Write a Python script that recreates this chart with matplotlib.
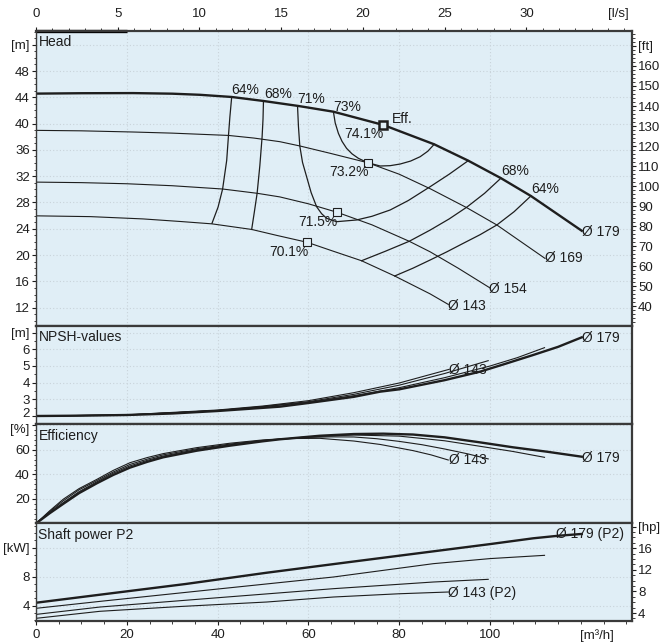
import matplotlib
matplotlib.use("Agg")
import matplotlib.pyplot as plt
import matplotlib.transforms as mtransforms
from matplotlib.ticker import MultipleLocator

plt.rcParams['font.family'] = ['Liberation Sans', 'DejaVu Sans']
plt.rcParams['font.size'] = 10

# ---------------- data (Q in m3/h) ----------------
# Head curves [m]
q_h179 = [0, 10, 21.4, 30, 36.1, 43.1, 50.1, 57.8, 65.5, 76.5, 87.7, 95.2, 102.4, 109, 120.2]
h_h179 = [44.56, 44.62, 44.64, 44.55, 44.38, 44.05, 43.44, 42.68, 41.81, 39.79, 36.85, 34.36, 31.7, 28.99, 23.7]
q_h169 = [0, 10, 21.4, 30, 42.4, 48, 53.7, 58.1, 64.8, 73.06, 80, 86.8, 94.9, 101.5, 112.1]
h_h169 = [38.97, 38.9, 38.72, 38.55, 38.2, 37.8, 37.25, 36.6, 35.48, 34.05, 32.3, 30.1, 27.2, 24.58, 19.5]
q_h154 = [0, 10, 20, 30, 41.1, 48.7, 53.7, 60, 66.37, 74, 82.2, 86.8, 93, 100]
h_h154 = [31.1, 31.02, 30.85, 30.55, 30.05, 29.4, 28.85, 27.8, 26.5, 24.6, 22.1, 20.5, 18.0, 15.0]
q_h143 = [0, 12, 23.6, 32, 38.76, 47.5, 53, 59.75, 65, 71.7, 79, 86.8, 90.8]
h_h143 = [25.97, 25.85, 25.5, 25.1, 24.75, 23.9, 23.0, 21.94, 20.7, 19.14, 16.82, 14.1, 12.5]

# Iso-efficiency lines [Q, H]
q_c64L = [43.1, 42.7, 42.4, 42.0, 41.1, 40.1, 38.76]
h_c64L = [44.05, 41.0, 38.27, 34.4, 30.05, 27.3, 24.83]
q_c68L = [50.1, 50.0, 49.8, 49.3, 48.7, 48.1, 47.5]
h_c68L = [43.44, 40.7, 38.0, 33.6, 29.4, 26.6, 23.9]
q_c71 = [57.6, 57.8, 58.1, 58.7, 59.6, 60.6, 61.8, 62.9, 64.0, 66.2, 70.6, 74, 78, 82, 86.8, 91, 95.2]
h_c71 = [42.68, 39.6, 36.6, 34.1, 31.92, 29.5, 27.36, 26.3, 25.6, 25.08, 25.34, 25.9, 26.86, 28.3, 30.4, 32.3, 34.36]
q_c73 = [65.5, 65.9, 66.6, 67.4, 68.4, 69.6, 71, 73.06, 75.8, 78, 80.2, 82.5, 84.6, 86.3, 87.7]
h_c73 = [41.81, 40.1, 38.52, 37.3, 36.24, 35.4, 34.72, 34.05, 33.55, 33.6, 33.85, 34.3, 34.96, 35.8, 36.85]
q_c68R = [71.7, 77, 82.2, 86.8, 91, 94.9, 98.8, 102.4]
h_c68R = [19.14, 20.6, 22.1, 23.8, 25.5, 27.3, 29.4, 31.7]
q_c64R = [79, 83, 86.8, 90.5, 94.1, 97.8, 101.5, 105.3, 109]
h_c64R = [16.82, 18.0, 19.25, 20.5, 21.79, 23.1, 24.58, 26.6, 28.99]

# duty points
q_pts = [59.75, 66.37, 73.06]
h_pts = [21.94, 26.5, 34.05]
q_eff, h_eff = 76.5, 39.79

# NPSH [m]
q_n179 = [0, 10, 20, 30, 40, 53.7, 60, 70, 75.8, 80, 90, 97.8, 103, 109.5, 115, 120.2]
n_n179 = [2.0, 2.02, 2.06, 2.15, 2.3, 2.56, 2.78, 3.15, 3.46, 3.6, 4.15, 4.66, 5.1, 5.66, 6.15, 6.72]
q_n169 = [0, 20, 40, 50, 60, 70, 80, 90, 100, 106, 112]
n_n169 = [2.0, 2.06, 2.32, 2.55, 2.82, 3.22, 3.7, 4.3, 5.0, 5.5, 6.1]
q_n154 = [0, 20, 40, 50, 60, 70, 80, 90, 99.6]
n_n154 = [2.0, 2.06, 2.33, 2.57, 2.86, 3.3, 3.85, 4.55, 5.32]
q_n143 = [0, 20, 40, 50, 60, 70, 80, 91]
n_n143 = [2.0, 2.07, 2.36, 2.6, 2.92, 3.4, 3.98, 4.8]

# Efficiency [%]
q_e179 = [0, 3, 6, 9.5, 13.4, 17, 20.7, 24.5, 28, 35.4, 42.7, 50, 53.7, 62.5, 70, 76.5, 83, 90, 97.8, 105, 112.5, 120.2]
e_e179 = [0, 8.3, 16, 24.8, 32.8, 39.6, 45.6, 50.3, 54, 59.4, 63.5, 67.1, 68.7, 71.6, 73.0, 73.3, 72.6, 70.3, 66.2, 62.2, 58.6, 54.5]
q_e169 = [0, 3, 6, 9.5, 13.4, 17, 20.7, 24.5, 28, 35.4, 42.7, 50, 60, 70, 80, 90, 97.8, 105, 112]
e_e169 = [0, 8.8, 17, 26, 34, 41, 47, 51.5, 55, 60.3, 64.2, 67.5, 70.8, 72.2, 71.3, 67.5, 63, 58.8, 54]
q_e154 = [0, 3, 6, 9.5, 13.4, 17, 20.7, 24.5, 28, 35.4, 42.7, 50, 60, 65, 70, 75, 80, 85, 90, 95, 99.6]
e_e154 = [0, 9.6, 18.5, 27.5, 35, 42, 48.2, 52.5, 56, 61, 64.8, 67.8, 70.3, 70.7, 70.6, 69.2, 67.0, 64.3, 60.8, 56.9, 52.7]
q_e143 = [0, 3, 6, 9.5, 13.4, 17, 20.7, 24.5, 28, 35.4, 42.7, 50, 55, 62.5, 70, 75.8, 83, 87, 90.8]
e_e143 = [0, 10.3, 19.8, 28.5, 36, 43.3, 49.6, 53.8, 57, 61.9, 65.5, 68.2, 69.3, 69.5, 67.3, 64.5, 59.5, 56, 51.8]

# Shaft power P2 [kW]
q_p179 = [0, 14.1, 33, 50.8, 70, 87.5, 100, 109.5, 115, 120.2]
p_p179 = [4.41, 5.52, 7.0, 8.55, 10.1, 11.5, 12.5, 13.3, 13.65, 13.9]
q_p169 = [0, 14.1, 40, 65.5, 87.5, 100, 112]
p_p169 = [3.64, 4.6, 6.3, 7.96, 9.8, 10.5, 10.95]
q_p154 = [0, 14.1, 40, 65.5, 87.5, 99.6]
p_p154 = [2.8, 3.82, 5.1, 6.35, 7.27, 7.64]
q_p143 = [0, 14.1, 32, 50.8, 65.5, 80, 90.8]
p_p143 = [2.26, 3.23, 3.9, 4.51, 5.2, 5.65, 5.89]

# tick labels
head_ticks = [12, 16, 20, 24, 28, 32, 36, 40, 44, 48, 52]
head_labels = ['12', '16', '20', '24', '28', '32', '36', '40', '44', '48', '[m]']
ft_ticks = [40, 50, 60, 70, 80, 90, 100, 110, 120, 130, 140, 150, 160, 170]
ft_labels = ['40', '50', '60', '70', '80', '90', '100', '110', '120', '130', '140', '150', '160', '[ft]']
ls_ticks = [0, 5, 10, 15, 20, 25, 30]
npsh_ticks = [2, 3, 4, 5, 6, 7]
npsh_labels = ['2', '3', '4', '5', '6', '[m]']
eff_ticks = [20, 40, 60, 80]
eff_labels = ['20', '40', '60', '[%]']
kw_ticks = [4, 8, 12]
kw_labels = ['4', '8', '[kW]']
hp_ticks = [4, 8, 12, 16, 20]
hp_labels = ['4', '8', '12', '16', '[hp]']
q_ticks = [0, 20, 40, 60, 80, 100]

# ---------------- figure ----------------
BG = '#E0EEF6'
INK = '#1e1e1e'
SPINE = '#3a3a3a'
GRID = '#c9d3da'
TS = 9.5

fig = plt.figure(figsize=(6.61, 6.44), dpi=100)
L, W = 36 / 661, (631.7 - 36) / 661


def box(top, bot):
    return [L, 1 - bot / 644, W, (bot - top) / 644]


ax_h = fig.add_axes(box(30.7, 325.5))
ax_n = fig.add_axes(box(325.5, 423.5))
ax_e = fig.add_axes(box(423.5, 522.5))
ax_p = fig.add_axes(box(522.5, 620.5))

XL = (0, 131.2)
for ax in (ax_h, ax_n, ax_e, ax_p):
    ax.set_facecolor(BG)
    ax.set_xlim(*XL)
    for s in ax.spines.values():
        s.set_color(SPINE)
        s.set_linewidth(1.6)
    ax.spines['left'].set_linewidth(1.0)
    ax.set_xticks(q_ticks)
    ax.xaxis.set_minor_locator(MultipleLocator(5))
    ax.grid(True, which='major', color=GRID, linestyle=(0, (1, 2)), linewidth=0.8)
    ax.set_axisbelow(True)
    ax.tick_params(axis='y', which='major', direction='out', length=3, width=0.8,
                   pad=1.5, labelsize=TS, colors=INK)
    ax.tick_params(axis='y', which='minor', direction='out', length=1.8, width=0.6, colors=INK)
    ax.tick_params(axis='x', which='both', bottom=False, labelbottom=False)

ax_p.tick_params(axis='x', which='major', bottom=True, labelbottom=True, direction='out',
                 length=3, width=0.8, pad=3, labelsize=TS, colors=INK)
ax_p.tick_params(axis='x', which='minor', bottom=True, direction='out', length=2, width=0.6, colors=INK)

thin = dict(color=INK, lw=0.8)
thick = dict(color=INK, lw=1.7)

# ---- Head ----
ax_h.set_ylim(9.29, 54.13)
ax_h.set_yticks(head_ticks, head_labels)
ax_h.yaxis.set_minor_locator(MultipleLocator(1))
ax_h.plot(q_h179, h_h179, **thick)
ax_h.plot(q_h169, h_h169, **thin)
ax_h.plot(q_h154, h_h154, **thin)
ax_h.plot(q_h143, h_h143, **thin)
for qq, hh in ((q_c64L, h_c64L), (q_c68L, h_c68L), (q_c71, h_c71), (q_c73, h_c73),
               (q_c68R, h_c68R), (q_c64R, h_c64R)):
    ax_h.plot(qq, hh, color=INK, lw=0.9)
ax_h.plot(q_pts, h_pts, ls='none', marker='s', ms=5.5, mfc=BG, mec=INK, mew=0.8)
ax_h.plot([q_eff], [h_eff], ls='none', marker='s', ms=5.5, mfc=BG, mec=INK, mew=1.8)

ann = [('64%', 42.95, 44.5), ('68%', 50.2, 43.95), ('71%', 57.6, 43.1), ('73%', 65.5, 41.97),
       ('Eff.', 78.3, 40.05), ('74.1%', 67.9, 37.77), ('73.2%', 64.5, 32.03),
       ('71.5%', 57.8, 24.4), ('70.1%', 51.3, 19.86), ('68%', 102.4, 32.2), ('64%', 109, 29.4),
       ('Ø 179', 120.2, 22.9), ('Ø 169', 112.1, 19.0), ('Ø 154', 99.8, 14.3), ('Ø 143', 90.8, 11.7)]
for t, x, y in ann:
    ax_h.text(x, y, t, ha='left', va='baseline', fontsize=10, color=INK)
ax_h.text(0.004, 0.985, 'Head', transform=ax_h.transAxes, ha='left', va='top', fontsize=10, color=INK)
ax_h.plot([0, 0.153], [1, 1], transform=ax_h.transAxes, color='black', lw=2.4,
          clip_on=False, solid_capstyle='butt')

# top l/s axis
sec_top = ax_h.secondary_xaxis('top', functions=(lambda q: q / 3.6, lambda l: l * 3.6))
sec_top.set_xticks(ls_ticks)
sec_top.xaxis.set_minor_locator(MultipleLocator(1))
sec_top.tick_params(which='major', direction='out', length=3, width=0.8, pad=5, labelsize=TS, colors=INK)
sec_top.tick_params(which='minor', direction='out', length=2, width=0.6, colors=INK)
sec_top.spines['top'].set_visible(False)
ax_h.annotate('[l/s]', xy=(35.6 * 3.6, 1.0), xycoords=('data', 'axes fraction'),
              xytext=(0, 8), textcoords='offset points', ha='center', va='bottom',
              fontsize=TS, color=INK, annotation_clip=False)
# right ft axis
sec_ft = ax_h.secondary_yaxis('right', functions=(lambda m: m * 3.28084, lambda f: f / 3.28084))
sec_ft.set_yticks(ft_ticks, ft_labels)
sec_ft.yaxis.set_minor_locator(MultipleLocator(2))
sec_ft.tick_params(which='major', direction='out', length=3, width=0.8, pad=1.5, labelsize=TS, colors=INK)
sec_ft.tick_params(which='minor', direction='out', length=1.8, width=0.6, colors=INK)
sec_ft.spines['right'].set_visible(False)

# ---- NPSH ----
ax_n.set_ylim(1.55, 7.43)
ax_n.set_yticks(npsh_ticks, npsh_labels)
ax_n.yaxis.set_minor_locator(MultipleLocator(0.5))
ax_n.plot(q_n143, n_n143, **thin)
ax_n.plot(q_n154, n_n154, **thin)
ax_n.plot(q_n169, n_n169, **thin)
ax_n.plot(q_n179, n_n179, **thick)
ax_n.text(120.3, 6.46, 'Ø 179', ha='left', va='baseline', fontsize=10, color=INK)
ax_n.text(91.0, 4.5, 'Ø 143', ha='left', va='baseline', fontsize=10, color=INK)
ax_n.text(0.004, 0.95, 'NPSH-values', transform=ax_n.transAxes, ha='left', va='top', fontsize=10, color=INK)

# ---- Efficiency ----
ax_e.set_ylim(0.8, 81.6)
ax_e.set_yticks(eff_ticks, eff_labels)
ax_e.yaxis.set_minor_locator(MultipleLocator(4))
ax_e.plot(q_e143, e_e143, **thin)
ax_e.plot(q_e154, e_e154, **thin)
ax_e.plot(q_e169, e_e169, **thin)
ax_e.plot(q_e179, e_e179, **thick)
ax_e.text(91.0, 48.3, 'Ø 143', ha='left', va='baseline', fontsize=10, color=INK)
ax_e.text(120.3, 50.45, 'Ø 179', ha='left', va='baseline', fontsize=10, color=INK)
ax_e.text(0.004, 0.94, 'Efficiency', transform=ax_e.transAxes, ha='left', va='top', fontsize=10, color=INK)

# ---- Power ----
ax_p.set_ylim(1.96, 15.48)
ax_p.set_yticks(kw_ticks, kw_labels)
ax_p.yaxis.set_minor_locator(MultipleLocator(1))
ax_p.plot(q_p143, p_p143, **thin)
ax_p.plot(q_p154, p_p154, **thin)
ax_p.plot(q_p169, p_p169, **thin)
ax_p.plot(q_p179, p_p179, **thick)
ax_p.text(114.5, 13.3, 'Ø 179 (P2)', ha='left', va='baseline', fontsize=10, color=INK)
ax_p.text(90.7, 5.16, 'Ø 143 (P2)', ha='left', va='baseline', fontsize=10, color=INK)
ax_p.text(0.004, 0.94, 'Shaft power P2', transform=ax_p.transAxes, ha='left', va='top', fontsize=10, color=INK)
ax_p.set_xticks(q_ticks, [str(v) for v in q_ticks])
ax_p.annotate('[m³/h]', xy=(123.5, 0.0), xycoords=('data', 'axes fraction'),
              xytext=(0, -6), textcoords='offset points', ha='center', va='top',
              fontsize=TS, color=INK, annotation_clip=False)
sec_hp = ax_p.secondary_yaxis('right', functions=(lambda k: k * 1.341, lambda h: h / 1.341))
sec_hp.set_yticks(hp_ticks, hp_labels)
sec_hp.yaxis.set_minor_locator(MultipleLocator(1))
sec_hp.tick_params(which='major', direction='out', length=3, width=0.8, pad=1.5, labelsize=TS, colors=INK)
sec_hp.tick_params(which='minor', direction='out', length=1.8, width=0.6, colors=INK)
sec_hp.spines['right'].set_visible(False)

# nudge the two adjoining tick labels at the NPSH / efficiency border apart
for lab in ax_n.get_yticklabels():
    if lab.get_text() == '2':
        lab.set_transform(lab.get_transform() + mtransforms.ScaledTranslation(0, 2.5 / 72, fig.dpi_scale_trans))
for lab in ax_e.get_yticklabels():
    if lab.get_text() == '[%]':
        lab.set_transform(lab.get_transform() + mtransforms.ScaledTranslation(0, -2.5 / 72, fig.dpi_scale_trans))

fig.savefig('out.png', dpi=100, facecolor='white')
